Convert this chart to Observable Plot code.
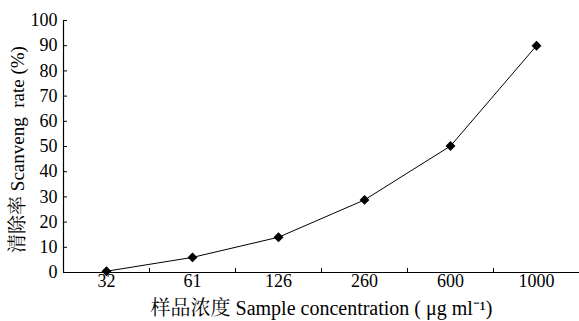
<!DOCTYPE html>
<html><head><meta charset="utf-8">
<script src="https://cdn.jsdelivr.net/npm/d3@7"></script>
<script src="https://cdn.jsdelivr.net/npm/@observablehq/plot@0.6"></script>
<style>
body{margin:0;background:#fff;}
</style></head>
<body><div id="chart"></div>
<script>
const concentrations = ["32","61","126","260","600","1000"];
const rates = [0.5, 6, 14, 28.8, 50.2, 90];
const yTicks = [0,10,20,30,40,50,60,70,80,90,100];
const xTitle = "样品浓度 Sample concentration ( μg ml⁻¹)";
const yTitle = "清除率 Scanveng  rate (%)";
const FONT = "'Liberation Serif', 'Noto Serif CJK SC', serif";

const data = concentrations.map((c,i)=>({idx:i+0.5, c, rate:rates[i]}));
const boundaries = d3.range(1, concentrations.length);
const centers = concentrations.map((c,i)=>i+0.5);

const chart = Plot.plot({
  width:579, height:321,
  marginLeft:63, marginRight:0, marginTop:20, marginBottom:49,
  style:{fontSize:"18px", fontFamily:FONT, color:"#000", background:"#fff"},
  x:{type:"linear", domain:[0, concentrations.length]},
  y:{domain:[0,100]},
  marks:[
    Plot.axisY({ticks:yTicks, tickSize:-4, tickPadding:10, label:null, tickFormat:d=>String(d), fontFamily:FONT}),
    Plot.axisX({ticks:boundaries, tickSize:-4, tickFormat:()=>"", label:null}),
    Plot.axisX({ticks:centers, tickSize:0, tickPadding:2, tickFormat:d=>concentrations[Math.floor(d)], label:null, fontFamily:FONT}),
    Plot.ruleX([0], {stroke:"#000", strokeWidth:1.2}),
    Plot.ruleY([0], {stroke:"#000", strokeWidth:1.2}),
    Plot.line(data, {x:"idx", y:"rate", stroke:"#000", strokeWidth:1}),
    Plot.dot(data, {x:"idx", y:"rate", symbol:"diamond2", fill:"#000", stroke:"#000", r:3.5}),
    Plot.text([xTitle], {frameAnchor:"bottom", textAnchor:"middle", lineAnchor:"middle", dy:36, fontSize:20, fill:"#000", fontFamily:FONT}),
    Plot.text([yTitle], {frameAnchor:"left", textAnchor:"middle", lineAnchor:"middle", dx:-46, dy:3, rotate:-90, fontSize:19, fill:"#000", fontFamily:FONT})
  ]
});
chart.querySelectorAll("text").forEach(t=>t.style.fontFamily=FONT);
document.getElementById("chart").appendChild(chart);
</script></body></html>
